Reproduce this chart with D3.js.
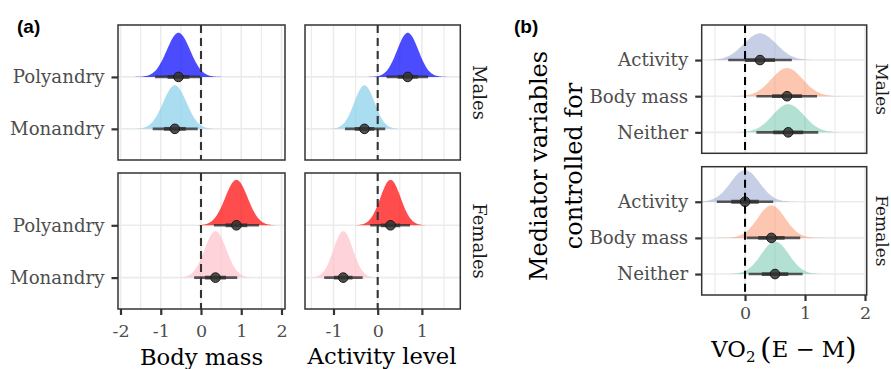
<!DOCTYPE html>
<html>
<head>
<meta charset="utf-8">
<script src="https://cdn.jsdelivr.net/npm/d3@7"></script>
<style>
  body { margin: 0; background: #fff; }
  svg { display: block; font-family: "DejaVu Serif", serif; }
</style>
</head>
<body>
<svg id="chart" width="891" height="369"></svg>
<script>
// ---- data ----
const sexes = ["Males", "Females"];
const matingRows = ["Polyandry", "Monandry"]; // top to bottom
const mediatorRows = ["Activity", "Body mass", "Neither"]; // top to bottom

// panel (a): [sex][row], rows = Polyandry, Monandry
const bodyMassMedian = [[-0.56, -0.65], [0.88, 0.36]];
const bodyMassSd = [[0.29, 0.29], [0.28, 0.27]];
const bodyMassLo95 = [[-1.14, -1.2], [0.32, -0.17]];
const bodyMassHi95 = [[-0.02, -0.08], [1.44, 0.9]];
const bodyMassLo66 = [[-0.83, -0.92], [0.61, 0.1]];
const bodyMassHi66 = [[-0.29, -0.38], [1.15, 0.62]];
const bodyMassPeak = [[0.85, 0.84], [0.87, 0.89]];

const activityMedian = [[0.68, -0.3], [0.29, -0.78]];
const activitySd = [[0.24, 0.23], [0.23, 0.22]];
const activityLo95 = [[0.2, -0.74], [-0.17, -1.21]];
const activityHi95 = [[1.14, 0.17], [0.73, -0.34]];
const activityLo66 = [[0.45, -0.52], [0.07, -0.99]];
const activityHi66 = [[0.91, -0.08], [0.51, -0.57]];
const activityPeak = [[0.85, 0.84], [0.87, 0.89]];

// panel (b): VO2 (E - M), [sex][row], rows = Activity, Body mass, Neither
const vo2Median = [[0.25, 0.7, 0.72], [0.0, 0.44, 0.5]];
const vo2Sd = [[0.27, 0.26, 0.26], [0.24, 0.23, 0.23]];
const vo2Lo95 = [[-0.28, 0.19, 0.19], [-0.47, 0.03, 0.06]];
const vo2Hi95 = [[0.78, 1.2, 1.22], [0.47, 0.92, 0.96]];
const vo2Lo66 = [[0.0, 0.45, 0.47], [-0.23, 0.22, 0.28]];
const vo2Hi66 = [[0.5, 0.95, 0.97], [0.23, 0.66, 0.72]];
const vo2Peak = [[0.74, 0.78, 0.78], [0.88, 0.9, 0.9]];

const bodyMassTicks = [-2, -1, 0, 1, 2];
const activityTicks = [-1, 0, 1];
const vo2Ticks = [0, 1, 2];

// ---- styles ----
const matingColors = [["blue", "skyblue"], ["red", "pink"]];
const mediatorColors = ["#8da0cb", "#fc8d62", "#66c2a5"];
const gridColor = "#ebebeb";
const inkColor = "#333333";
const tickTextColor = "#4d4d4d";

const svg = d3.select("#chart");
let clipCount = 0;

function rowsFor(sexIdx, labels, med, sd, lo95, hi95, lo66, hi66, peak, colors, opacity) {
  return labels.map((label, i) => ({
    label,
    median: med[sexIdx][i],
    sd: sd[sexIdx][i],
    lo95: lo95[sexIdx][i],
    hi95: hi95[sexIdx][i],
    lo66: lo66[sexIdx][i],
    hi66: hi66[sexIdx][i],
    peak: peak[sexIdx][i],
    color: colors[i],
    opacity,
  }));
}

function drawPanel(cfg) {
  const g = svg.append("g");
  const n = cfg.rows.length;
  const x = d3.scaleLinear().domain(cfg.xDomain).range([cfg.left, cfg.right]);
  const y = d3.scaleLinear().domain(cfg.yDomain).range([cfg.bottom, cfg.top]);
  const unit = y(1) - y(2);
  const pos = (i) => n - i;

  const clipId = "clip" + clipCount++;
  g.append("clipPath")
    .attr("id", clipId)
    .append("rect")
    .attr("x", cfg.left)
    .attr("y", cfg.top)
    .attr("width", cfg.right - cfg.left)
    .attr("height", cfg.bottom - cfg.top);

  const body = g.append("g").attr("clip-path", `url(#${clipId})`);

  // grid
  const gridVals = d3.range(Math.ceil(cfg.xDomain[0] * 2) / 2, cfg.xDomain[1], 0.5);
  body
    .selectAll(".grid-x")
    .data(gridVals)
    .join("line")
    .attr("class", "grid-x")
    .attr("x1", (d) => x(d))
    .attr("x2", (d) => x(d))
    .attr("y1", cfg.top)
    .attr("y2", cfg.bottom)
    .attr("stroke", gridColor)
    .attr("stroke-width", (d) => (Number.isInteger(d) ? 1.6 : 1.2));

  body
    .selectAll(".grid-y")
    .data(d3.range(1, n + 1))
    .join("line")
    .attr("class", "grid-y")
    .attr("x1", cfg.left)
    .attr("x2", cfg.right)
    .attr("y1", (d) => y(d))
    .attr("y2", (d) => y(d))
    .attr("stroke", gridColor)
    .attr("stroke-width", 1.6);

  // slabs (normal-shaped half eyes)
  const area = d3
    .area()
    .x((d) => x(d.v))
    .y0((d) => d.base)
    .y1((d) => d.top)
    .curve(d3.curveBasis);

  cfg.rows.forEach((r, i) => {
    const base = y(pos(i));
    const pts = d3.range(-4, 4.001, 0.1).map((z) => ({
      v: r.median + z * r.sd,
      base,
      top: base - r.peak * unit * Math.exp((-z * z) / 2),
    }));
    body
      .append("path")
      .attr("d", area(pts))
      .attr("fill", r.color)
      .attr("fill-opacity", r.opacity);
  });

  // intervals
  const iv = body.append("g");
  cfg.rows.forEach((r, i) => {
    const yy = y(pos(i));
    iv.append("line")
      .attr("x1", x(r.lo95))
      .attr("x2", x(r.hi95))
      .attr("y1", yy)
      .attr("y2", yy)
      .attr("stroke", "#2b2b2b")
      .attr("stroke-opacity", 0.78)
      .attr("stroke-width", 2.6);
    iv.append("line")
      .attr("x1", x(r.lo66))
      .attr("x2", x(r.hi66))
      .attr("y1", yy)
      .attr("y2", yy)
      .attr("stroke", "#2b2b2b")
      .attr("stroke-opacity", 0.78)
      .attr("stroke-width", 3.8);
  });

  // zero reference
  body
    .append("line")
    .attr("x1", x(0))
    .attr("x2", x(0))
    .attr("y1", cfg.top)
    .attr("y2", cfg.bottom)
    .attr("stroke", cfg.zeroColor || inkColor)
    .attr("stroke-width", 2.1)
    .attr("stroke-dasharray", "8,5");

  cfg.rows.forEach((r, i) => {
    iv.append("circle")
      .attr("cx", x(r.median))
      .attr("cy", y(pos(i)))
      .attr("r", 4.8)
      .attr("fill", "#333")
      .attr("fill-opacity", 0.85)
      .attr("stroke", "#1a1a1a")
      .attr("stroke-width", 1);
  });

  // border
  g.append("rect")
    .attr("x", cfg.left)
    .attr("y", cfg.top)
    .attr("width", cfg.right - cfg.left)
    .attr("height", cfg.bottom - cfg.top)
    .attr("fill", "none")
    .attr("stroke", inkColor)
    .attr("stroke-width", 1.5);

  // y axis
  if (cfg.showY) {
    const yAxis = d3
      .axisLeft(y)
      .tickValues(d3.range(1, n + 1))
      .tickFormat((p) => cfg.rows[n - p].label)
      .tickSize(6.5)
      .tickPadding(7);
    const ya = g.append("g").attr("transform", `translate(${cfg.left},0)`).call(yAxis);
    styleAxis(ya, 18.2);
  }

  // x axis
  if (cfg.xTicks) {
    const xAxis = d3
      .axisBottom(x)
      .tickValues(cfg.xTicks)
      .tickFormat((d) => String(d))
      .tickSize(cfg.xTickSize)
      .tickPadding(cfg.xTickPad);
    const xa = g.append("g").attr("transform", `translate(0,${cfg.bottom})`).call(xAxis);
    styleAxis(xa, 17.5);
  }

  // facet strip
  if (cfg.strip) {
    g.append("text")
      .attr("transform", `translate(${cfg.stripX},${(cfg.top + cfg.bottom) / 2}) rotate(90)`)
      .attr("text-anchor", "middle")
      .attr("font-size", cfg.stripSize)
      .attr("fill", "#1a1a1a")
      .text(cfg.strip);
  }
}

function styleAxis(sel, fontSize) {
  sel.select(".domain").remove();
  sel.attr("font-family", null).attr("font-size", null);
  sel.selectAll(".tick line").attr("stroke", inkColor).attr("stroke-width", 2.2);
  sel.selectAll(".tick text").attr("fill", tickTextColor).attr("font-size", fontSize);
}

// ---- panel (a) ----
const aY = [
  { top: 25, bottom: 160 },
  { top: 173, bottom: 309 },
];

sexes.forEach((sex, s) => {
  drawPanel({
    left: 118,
    right: 285,
    top: aY[s].top,
    bottom: aY[s].bottom,
    xDomain: [-2.062, 2.087],
    yDomain: [0.4, 3.0],
    rows: rowsFor(s, matingRows, bodyMassMedian, bodyMassSd, bodyMassLo95, bodyMassHi95,
      bodyMassLo66, bodyMassHi66, bodyMassPeak, matingColors[s], 0.7),
    showY: true,
    xTicks: s === 1 ? bodyMassTicks : null,
    xTickSize: 6,
    xTickPad: 10,
  });
  drawPanel({
    left: 305,
    right: 460.3,
    top: aY[s].top,
    bottom: aY[s].bottom,
    xDomain: [-1.645, 1.869],
    yDomain: [0.4, 3.0],
    rows: rowsFor(s, matingRows, activityMedian, activitySd, activityLo95, activityHi95,
      activityLo66, activityHi66, activityPeak, matingColors[s], 0.7),
    showY: false,
    xTicks: s === 1 ? activityTicks : null,
    xTickSize: 6,
    xTickPad: 10,
    strip: sex,
    stripX: 472.5,
    stripSize: 18,
  });
});

// ---- panel (b) ----
const bY = [
  { top: 25, bottom: 153.3 },
  { top: 166.7, bottom: 295 },
];

sexes.forEach((sex, s) => {
  drawPanel({
    left: 701.7,
    right: 866.7,
    top: bY[s].top,
    bottom: bY[s].bottom,
    xDomain: [-0.722, 2.028],
    yDomain: [0.42, 3.97],
    rows: rowsFor(s, mediatorRows, vo2Median, vo2Sd, vo2Lo95, vo2Hi95,
      vo2Lo66, vo2Hi66, vo2Peak, mediatorColors, 0.5),
    showY: true,
    xTicks: s === 1 ? vo2Ticks : null,
    xTickSize: 6,
    xTickPad: 6,
    strip: sex,
    stripX: 875.5,
    stripSize: 17,
    zeroColor: "#000",
  });
});

// ---- titles ----
svg.append("text").attr("x", 201.5).attr("y", 364.5).attr("text-anchor", "middle")
  .attr("font-size", 22.7).attr("fill", "#000").text("Body mass");
svg.append("text").attr("x", 382).attr("y", 364).attr("text-anchor", "middle")
  .attr("font-size", 22.7).attr("fill", "#000").text("Activity level");

const vo2Title = svg.append("text").attr("x", 784).attr("y", 357).attr("text-anchor", "middle")
  .attr("font-size", 22.7).attr("fill", "#000");
vo2Title.append("tspan").text("VO");
vo2Title.append("tspan").attr("font-size", 15).attr("dy", 5).text("2");
vo2Title.append("tspan").attr("dy", -5).text("\u2009");
vo2Title.append("tspan").attr("font-size", 30).attr("dy", 2).text("(");
vo2Title.append("tspan").attr("dy", -2).text("E \u2212 M");
vo2Title.append("tspan").attr("font-size", 30).attr("dy", 2).text(")");

const yTitle = svg.append("g").attr("font-size", 24).attr("fill", "#000").attr("text-anchor", "middle");
yTitle.append("text").attr("transform", "translate(547,166) rotate(-90)").text("Mediator variables");
yTitle.append("text").attr("transform", "translate(582,166) rotate(-90)").text("controlled for");

svg.append("text").attr("x", 17).attr("y", 33).attr("font-family", "Liberation Sans, Arial, sans-serif")
  .attr("font-weight", "bold").attr("font-size", 19).text("(a)");
svg.append("text").attr("x", 514).attr("y", 33).attr("font-family", "Liberation Sans, Arial, sans-serif")
  .attr("font-weight", "bold").attr("font-size", 19).text("(b)");
</script>
</body>
</html>
